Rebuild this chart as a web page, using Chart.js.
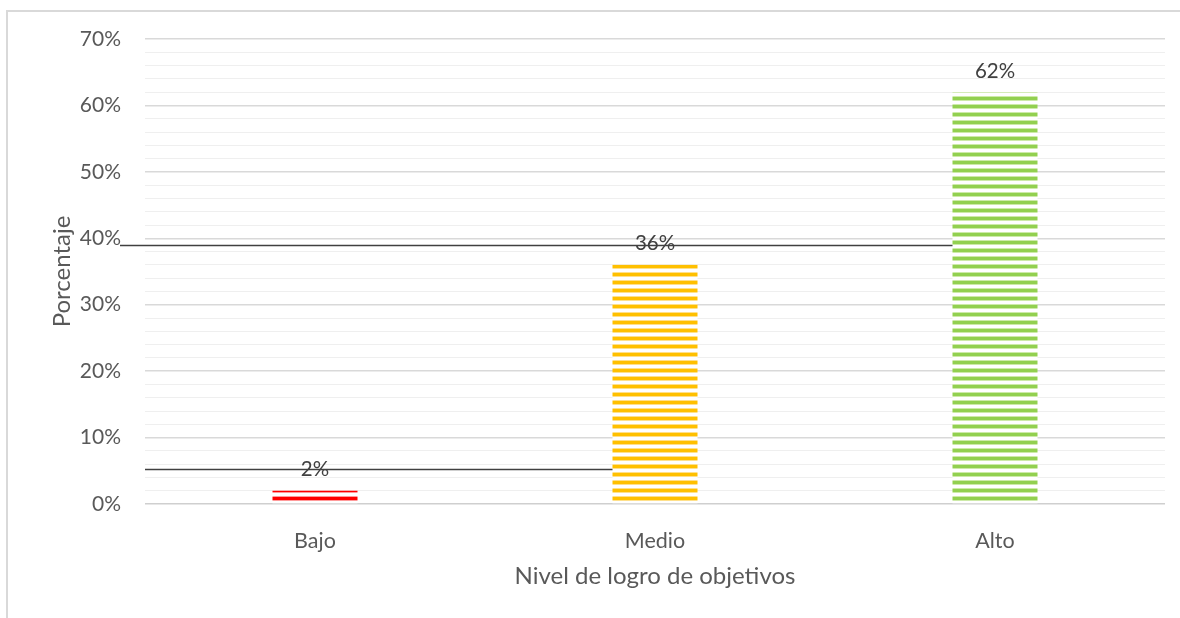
<!DOCTYPE html>
<html>
<head>
<meta charset="utf-8">
<script src="https://cdn.jsdelivr.net/npm/chart.js@4.4.1/dist/chart.umd.min.js"></script>
<style>
  html, body { margin: 0; padding: 0; background: #fff; }
  #wrap { position: relative; width: 1180px; height: 618px; overflow: hidden; }
  #frame {
    position: absolute; left: 6px; top: 10px; width: 1180px; height: 620px;
    border-left: 2px solid #d9d9d9; border-top: 2px solid #d9d9d9;
    pointer-events: none;
  }
  canvas { position: absolute; left: 0; top: 0; }
</style>
</head>
<body>
<div id="wrap">
  <div id="frame"></div>
  <canvas id="logro-chart" width="1180" height="618"></canvas>
</div>
<script>
/* Nivel de logro de objetivos - porcentaje por nivel */

var categories  = ['Bajo', 'Medio', 'Alto'];
var percentages = [2, 36, 62];
var barColors   = ['#FF0000', '#FFC000', '#92D050'];
var yTicks      = [0, 10, 20, 30, 40, 50, 60, 70];

// dark rules crossing the value labels (value on y, ends at the bar of that category)
var ruleValues = [39, 5.3];
var ruleEndsAt = ['Alto', 'Medio'];

var FONT = 'Lato, "Open Sans", sans-serif';

// horizontal stripe fill for the bars
function stripes(color, light) {
    var c = document.createElement('canvas');
    c.width = 8; c.height = 8;
    var g = c.getContext('2d');
    g.fillStyle = '#ffffff';
    g.fillRect(0, 0, 8, 8);
    g.fillStyle = light;
    g.fillRect(0, 0, 8, 1);
    g.fillRect(0, 4, 8, 1);
    g.fillStyle = color;
    g.fillRect(0, 1, 8, 3);
    return g.createPattern(c, 'repeat');
}

var lightOf = { '#FF0000': '#ff9a9a', '#FFC000': '#ffe08a', '#92D050': '#cdeaa8' };

var valueLabels = {
    id: 'valueLabels',
    afterDatasetsDraw: function(chart) {
        var ctx = chart.ctx;
        var meta = chart.getDatasetMeta(0);
        ctx.save();
        ctx.fillStyle = '#404040';
        ctx.font = '20.5px ' + FONT;
        ctx.textAlign = 'center';
        ctx.textBaseline = 'middle';
        meta.data.forEach(function(bar, i) {
            ctx.fillText(percentages[i] + '%', bar.x, bar.y - 21);
        });
        ctx.restore();
    }
};

var labelRules = {
    id: 'labelRules',
    afterDraw: function(chart) {
        var ctx = chart.ctx;
        var y = chart.scales.y;
        var meta = chart.getDatasetMeta(0);
        ctx.save();
        ctx.strokeStyle = '#404040';
        ctx.lineWidth = 1.5;
        ruleValues.forEach(function(v, i) {
            var bar = meta.data[categories.indexOf(ruleEndsAt[i])];
            var x0 = chart.chartArea.left - (i === 0 ? 25 : 0);
            var x1 = bar.x - bar.width / 2;
            var py = Math.round(y.getPixelForValue(v)) + 0.5;
            ctx.beginPath();
            ctx.moveTo(x0, py);
            ctx.lineTo(x1, py);
            ctx.stroke();
        });
        ctx.restore();
    }
};

new Chart(document.getElementById('logro-chart'), {
    type: 'bar',
    data: {
        labels: categories,
        datasets: [{
            data: percentages,
            backgroundColor: barColors.map(function(c) { return stripes(c, lightOf[c]); }),
            borderWidth: 0,
            categoryPercentage: 1,
            barPercentage: 0.25
        }]
    },
    options: {
        responsive: false,
        animation: false,
        devicePixelRatio: 1,
        layout: { padding: { top: 39, right: 15, left: 0, bottom: 0 } },
        plugins: {
            legend: { display: false },
            tooltip: { enabled: false }
        },
        scales: {
            x: {
                grid: { display: false },
                border: { display: false },
                ticks: { color: '#595959', font: { family: FONT, size: 21.5 }, padding: 16 },
                title: {
                    display: true,
                    text: 'Nivel de logro de objetivos',
                    color: '#595959',
                    font: { family: FONT, size: 24 },
                    padding: { top: 0, bottom: 27 }
                },
                afterFit: function(s) { s.height = 114; }
            },
            y: {
                min: 0,
                max: yTicks[yTicks.length - 1],
                border: { display: false },
                grid: {
                    drawTicks: false,
                    color: function(c) {
                        if (c.tick.value === 0) return '#cfcfcf';
                        return c.tick.value % 10 === 0 ? '#d9d9d9' : '#efefef';
                    },
                    lineWidth: function(c) { return c.tick.value % 10 === 0 ? 1.5 : 1; }
                },
                ticks: {
                    stepSize: 2,
                    color: '#595959',
                    font: { family: FONT, size: 21 },
                    padding: 24,
                    autoSkip: false,
                    callback: function(v) { return yTicks.indexOf(v) >= 0 ? v + '%' : ''; }
                },
                title: {
                    display: true,
                    text: 'Porcentaje',
                    color: '#595959',
                    font: { family: FONT, size: 24 },
                    padding: { top: 48, bottom: 0 }
                },
                afterFit: function(s) { s.width = 145; }
            }
        }
    },
    plugins: [valueLabels, labelRules]
});
</script>
</body>
</html>
